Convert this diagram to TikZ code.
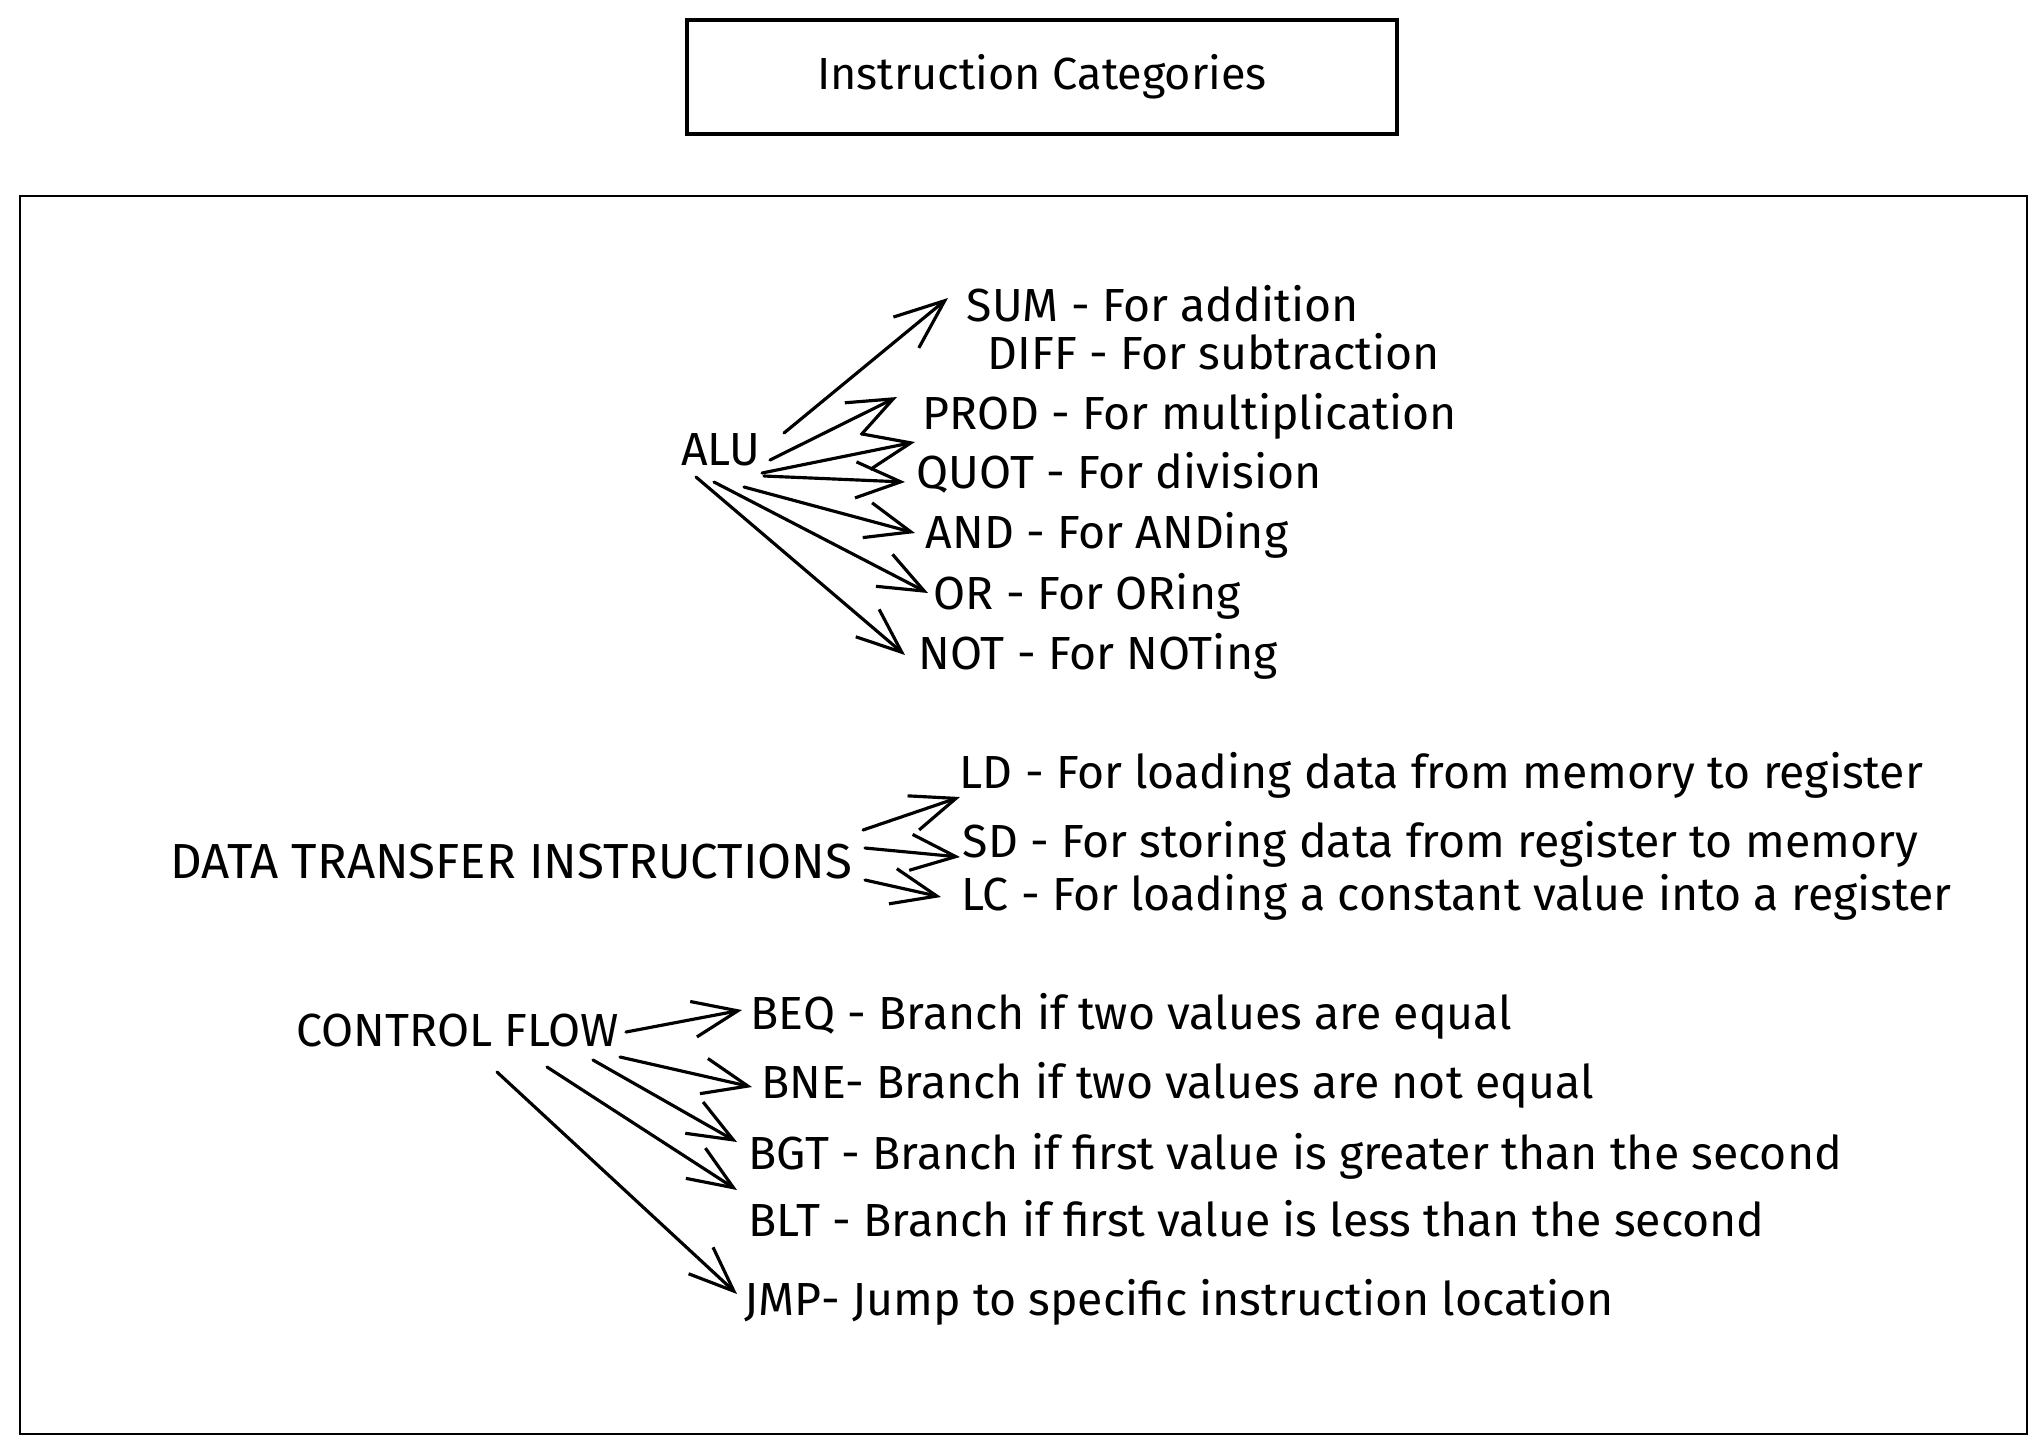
\documentclass[tikz,border=0pt]{standalone}
\usepackage{fontspec}
\setmainfont{Fira Sans}
\usetikzlibrary{arrows.meta}

\begin{document}
\begin{tikzpicture}[x=0.01cm,y=-0.01cm,line cap=round]
            \useasboundingbox (0,0) rectangle (2044,1453);
            \node[draw,line width=1pt,minimum width=7.1cm,minimum height=1.14cm,font=\fontsize{12.8}{15}\selectfont] (title) at (1042,77) {Instruction Categories};
            \draw[line width=0.7pt] (20,196) rectangle (2027,1434);

            \begin{scope}[every node/.style={anchor=west,inner sep=0pt,text height=12.8pt,text depth=3.5pt,font=\fontsize{13.2}{16}\selectfont}]
                \node[anchor=center] (alu) at (721,449) {ALU};
                \node (sum) at (966,305) {SUM - For addition};
                \node (diff) at (987,353) {DIFF - For subtraction};
                \node (prod) at (922,413) {PROD - For multiplication};
                \node (quot) at (916,472) {QUOT - For division};
                \node (and) at (925,532) {AND - For ANDing};
                \node (or) at (933,593) {OR - For ORing};
                \node (not) at (918,653) {NOT - For NOTing};

                \node[font=\fontsize{14}{16}\selectfont] (data) at (170,862) {DATA TRANSFER INSTRUCTIONS};
                \node (ld) at (959,772) {LD - For loading data from memory to register};
                \node (sd) at (962,841) {SD - For storing data from register to memory};
                \node (lc) at (961,894) {LC - For loading a constant value into a register};

                \node (ctl) at (296,1030) {CONTROL FLOW};
                \node (beq) at (750,1013) {BEQ - Branch if two values are equal};
                \node (bne) at (761,1082) {BNE- Branch if two values are not equal};
                \node (bgt) at (748,1153) {BGT - Branch if first value is greater than the second};
                \node (blt) at (748,1220) {BLT - Branch if first value is less than the second};
                \node (jmp) at (744,1299) {JMP- Jump to specific instruction location};
            \end{scope}

            \begin{scope}[every edge/.style={draw,line width=0.9pt}]
                % alu
                \path [-{Straight Barb[length=5mm,width=4mm]}] ([shift={(63,-16)}]alu.center) edge ([shift={(-18,-7)}]sum.west);
                \path [-{Straight Barb[length=4.5mm,width=3.6mm]}] ([shift={(49,11)}]alu.center) edge ([shift={(-25,-16)}]prod.west);
                \path [-{Straight Barb[length=4.5mm,width=3.6mm]}] ([shift={(41,24)}]alu.center) edge ([shift={(-1,-30)}]quot.west);
                \path [-{Straight Barb[length=4.5mm,width=3.6mm]}] ([shift={(43,27)}]alu.center) edge ([shift={(-11,10)}]quot.west);
                \path [-{Straight Barb[length=4.5mm,width=3.6mm]}] ([shift={(23,38)}]alu.center) edge ([shift={(-10,1)}]and.west);
                \path [-{Straight Barb[length=4.5mm,width=3.6mm]}] ([shift={(-7,33)}]alu.center) edge ([shift={(-5,0)}]or.west);
                \path [-{Straight Barb[length=4.5mm,width=3.6mm]}] ([shift={(-25,28)}]alu.center) edge ([shift={(-13,2)}]not.west);

                % data transfer
                \path [-{Straight Barb[length=4.5mm,width=3.6mm]}] ([shift={(693,-32)}]data.west) edge ([shift={(1,25)}]ld.west);
                \path [-{Straight Barb[length=4.5mm,width=3.6mm]}] ([shift={(695,-14)}]data.west) edge ([shift={(-2,16)}]sd.west);
                \path [-{Straight Barb[length=4.5mm,width=3.6mm]}] ([shift={(695,18)}]data.west) edge ([shift={(-20,3)}]lc.west);

                % control flow
                \path [-{Straight Barb[length=4.5mm,width=3.6mm]}] ([shift={(330,2)}]ctl.west) edge ([shift={(-8,-3)}]beq.west);
                \path [-{Straight Barb[length=4.5mm,width=3.6mm]}] ([shift={(324,27)}]ctl.west) edge ([shift={(-9,5)}]bne.west);
                \path [-{Straight Barb[length=4.5mm,width=3.6mm]}] ([shift={(297,30)}]ctl.west) edge ([shift={(-11,-11)}]bgt.west);
                \path [-{Straight Barb[length=4.5mm,width=3.6mm]}] ([shift={(251,37)}]ctl.west) edge ([shift={(-11,-30)}]blt.west);
                \path [-{Straight Barb[length=4.5mm,width=3.6mm]}] ([shift={(201,42)}]ctl.west) edge ([shift={(-7,-5)}]jmp.west);
            \end{scope}
        \end{tikzpicture}
\end{document}
